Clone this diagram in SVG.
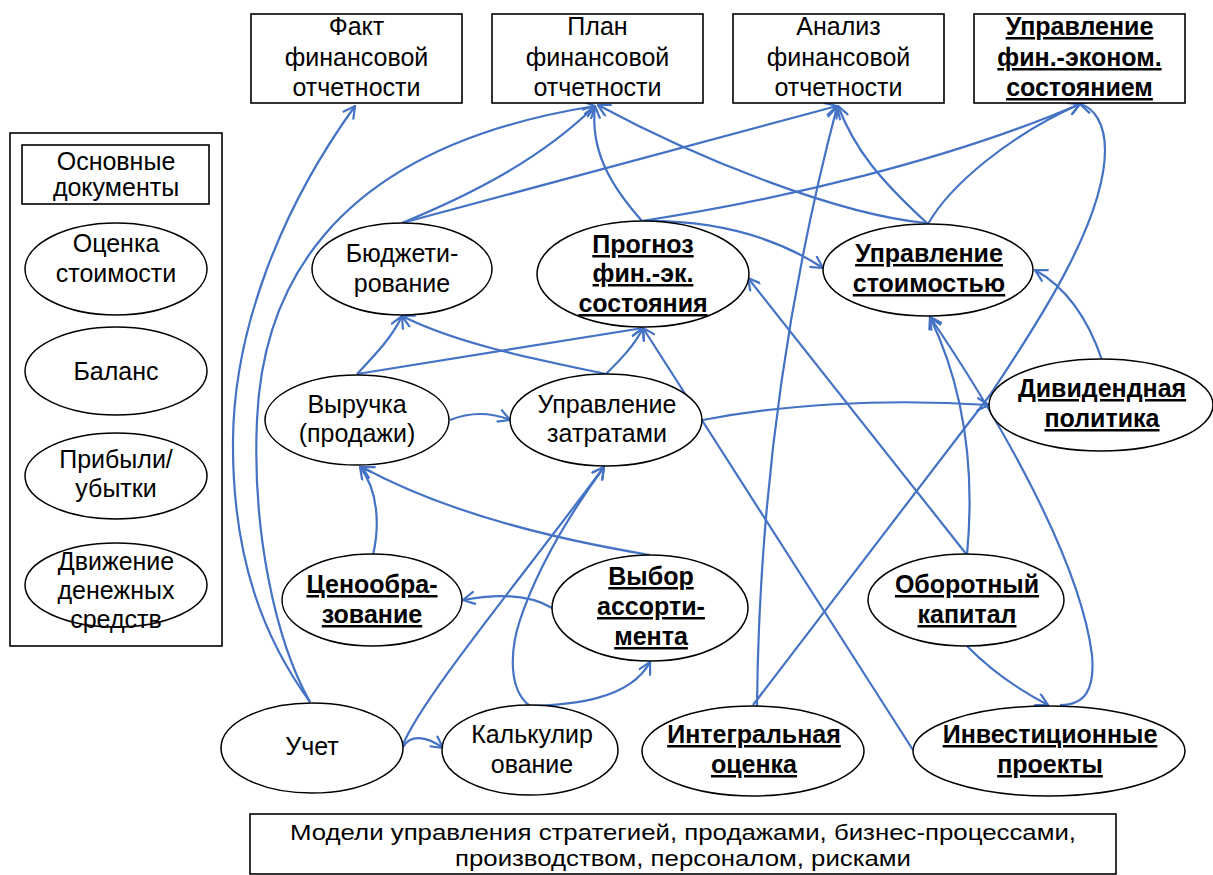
<svg xmlns="http://www.w3.org/2000/svg" width="1213" height="875" viewBox="0 0 1213 875">
<style>
.box{fill:#fff;stroke:#000;stroke-width:1.6}
.ell{fill:#fff;stroke:#000;stroke-width:1.5}
.t{font-family:"Liberation Sans",Arial,sans-serif;font-size:25px;fill:#000;text-anchor:middle}
.b{font-family:"Liberation Sans",Arial,sans-serif;font-size:25px;font-weight:bold;fill:#000;text-anchor:middle;text-decoration:underline}
.c{fill:none;stroke:#4472C4;stroke-width:2.2;marker-end:url(#ah)}
</style>
<defs>
<marker id="ah" viewBox="0 0 14 14" refX="13" refY="7" markerWidth="14" markerHeight="14" markerUnits="userSpaceOnUse" orient="auto">
<path d="M1,0.5 L13,7 L1,13.5" fill="none" stroke="#4472C4" stroke-width="2.2"/>
</marker>
</defs>
<rect width="1213" height="875" fill="#fff"/>
<g id="connectors">
<path class="c" d="M310,702 C265,640 232,560 233,440 C234,330 280,210 355,106"/>
<path class="c" d="M310,702 C275,640 252,530 257,420 C262,300 320,150 595,106"/>
<path class="c" d="M402,223 C470,195 540,160 595,106"/>
<path class="c" d="M402,223 L837,106"/>
<path class="c" d="M642,221 C610,185 590,150 595,106"/>
<path class="c" d="M642,221 C780,200 950,160 1080,104"/>
<path class="c" d="M642,221 C720,220 780,240 823,268"/>
<path class="c" d="M926,223 C840,215 700,160 598,105"/>
<path class="c" d="M928,224 C880,180 855,150 838,106"/>
<path class="c" d="M928,224 C950,185 1010,135 1080,104"/>
<path class="c" d="M757,706 Q760,400 837,107"/>
<path class="c" d="M753,705 L990,395 C1040,320 1105,220 1105,150 C1105,125 1095,108 1080,104"/>
<path class="c" d="M1060,705 C1085,705 1095,690 1092,655 C1080,560 1000,420 930,317"/>
<path class="c" d="M967,555 C975,470 965,390 930,317"/>
<path class="c" d="M967,555 L748,278"/>
<path class="c" d="M967,646 Q1000,680 1048,705"/>
<path class="c" d="M1102,360 Q1080,295 1035,270"/>
<path class="c" d="M703,420 C780,405 880,398 989,405"/>
<path class="c" d="M913,750 L643,328"/>
<path class="c" d="M606,374 C620,360 635,345 643,328"/>
<path class="c" d="M357,374 L643,328"/>
<path class="c" d="M357,374 C372,358 392,338 402,316"/>
<path class="c" d="M606,374 C540,360 460,345 402,316"/>
<path class="c" d="M450,420 C470,412 490,412 510,420"/>
<path class="c" d="M373,555 C380,525 378,490 360,467"/>
<path class="c" d="M650,555 C560,540 450,515 362,467"/>
<path class="c" d="M552,608 C530,595 500,593 463,600"/>
<path class="c" d="M530,706 C570,705 630,700 650,662"/>
<path class="c" d="M530,706 C508,690 510,650 520,620 C540,560 580,500 604,467"/>
<path class="c" d="M402,747 C420,700 520,580 604,467"/>
<path class="c" d="M403,747 C410,735 425,735 443,748"/>
</g>
<g id="fakt"><rect class="box" x="251" y="14" width="211" height="89"/>
<text class="t" x="356.5" y="35">Факт</text><text class="t" x="356.5" y="66">финансовой</text><text class="t" x="356.5" y="96">отчетности</text></g>
<g id="plan"><rect class="box" x="492" y="14" width="211" height="89"/>
<text class="t" x="597.5" y="35">План</text><text class="t" x="597.5" y="66">финансовой</text><text class="t" x="597.5" y="96">отчетности</text></g>
<g id="analiz"><rect class="box" x="733" y="14" width="211" height="89"/>
<text class="t" x="838.5" y="35">Анализ</text><text class="t" x="838.5" y="66">финансовой</text><text class="t" x="838.5" y="96">отчетности</text></g>
<g id="upr-fin"><rect class="box" x="974" y="14" width="211" height="89"/>
<text class="b" x="1079.5" y="35">Управление</text><text class="b" x="1079.5" y="66">фин.-эконом.</text><text class="b" x="1079.5" y="96">состоянием</text></g>
<g id="legend"><rect class="box" x="10" y="133" width="212" height="513"/>
<rect class="box" x="22" y="145" width="187" height="59"/>
<text class="t" x="116" y="170">Основные</text><text class="t" x="116" y="196">документы</text>
<ellipse class="ell" cx="116" cy="269" rx="91" ry="46"/>
<text class="t" x="116" y="252">Оценка</text><text class="t" x="116" y="282">стоимости</text>
<ellipse class="ell" cx="116" cy="371" rx="91" ry="44"/>
<text class="t" x="116" y="380">Баланс</text>
<ellipse class="ell" cx="116" cy="476" rx="91" ry="43"/>
<text class="t" x="116" y="468">Прибыли/</text><text class="t" x="116" y="497">убытки</text>
<ellipse class="ell" cx="116" cy="585" rx="91" ry="42"/>
<text class="t" x="116" y="570">Движение</text><text class="t" x="116" y="599">денежных</text><text class="t" x="116" y="628">средств</text></g>
<g id="budget"><ellipse class="ell" cx="402" cy="269" rx="90" ry="46"/>
<text class="t" x="402" y="262">Бюджети-</text><text class="t" x="402" y="292">рование</text></g>
<g id="prognoz"><ellipse class="ell" cx="643" cy="274" rx="106" ry="53"/>
<text class="b" x="643" y="253">Прогноз</text><text class="b" x="643" y="282">фин.-эк.</text><text class="b" x="643" y="312">состояния</text></g>
<g id="upr-stoim"><ellipse class="ell" cx="928" cy="270" rx="105" ry="46"/>
<text class="b" x="929" y="262">Управление</text><text class="b" x="929" y="292">стоимостью</text></g>
<g id="vyruchka"><ellipse class="ell" cx="357" cy="420" rx="92" ry="45"/>
<text class="t" x="357" y="413">Выручка</text><text class="t" x="357" y="442">(продажи)</text></g>
<g id="upr-zatr"><ellipse class="ell" cx="606" cy="420" rx="96" ry="46"/>
<text class="t" x="607" y="413">Управление</text><text class="t" x="607" y="442">затратами</text></g>
<g id="divid"><ellipse class="ell" cx="1101" cy="405" rx="112" ry="46"/>
<text class="b" x="1102" y="397">Дивидендная</text><text class="b" x="1102" y="427">политика</text></g>
<g id="cenoobr"><ellipse class="ell" cx="372" cy="600" rx="90" ry="46"/>
<text class="b" x="372" y="593">Ценообра-</text><text class="b" x="372" y="623">зование</text></g>
<g id="vybor"><ellipse class="ell" cx="650" cy="608" rx="98" ry="53"/>
<text class="b" x="651" y="585">Выбор</text><text class="b" x="651" y="615">ассорти-</text><text class="b" x="651" y="645">мента</text></g>
<g id="oborot"><ellipse class="ell" cx="966" cy="600" rx="98" ry="46"/>
<text class="b" x="967" y="593">Оборотный</text><text class="b" x="967" y="623">капитал</text></g>
<g id="uchet"><ellipse class="ell" cx="312" cy="748" rx="91" ry="45"/>
<text class="t" x="312" y="755">Учет</text></g>
<g id="kalk"><ellipse class="ell" cx="530" cy="750" rx="88" ry="45"/>
<text class="t" x="532" y="743">Калькулир</text><text class="t" x="532" y="773">ование</text></g>
<g id="integr"><ellipse class="ell" cx="753" cy="751" rx="111" ry="45"/>
<text class="b" x="754" y="743">Интегральная</text><text class="b" x="754" y="773">оценка</text></g>
<g id="invest"><ellipse class="ell" cx="1049" cy="751" rx="136" ry="45"/>
<text class="b" x="1050" y="743">Инвестиционные</text><text class="b" x="1050" y="773">проекты</text></g>
<g id="models"><rect class="box" x="250" y="814" width="866" height="60"/>
<text class="t" style="font-size:22px" x="683" y="840" textLength="786" lengthAdjust="spacingAndGlyphs">Модели управления стратегией, продажами, бизнес-процессами,</text>
<text class="t" style="font-size:22px" x="683" y="866" textLength="456" lengthAdjust="spacingAndGlyphs">производством, персоналом, рисками</text></g>
</svg>
